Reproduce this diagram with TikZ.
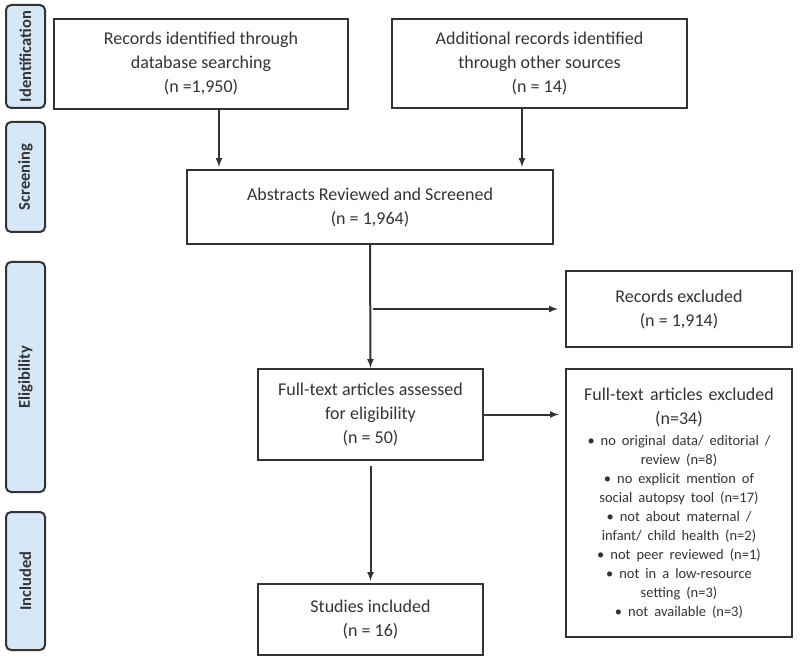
\documentclass[tikz,border=0pt]{standalone}
\usepackage{fontspec}
\setmainfont{Carlito}
\definecolor{barfill}{HTML}{D6E7F7}
\definecolor{inkgray}{HTML}{333333}
\tikzset{
  flowbox/.style={draw=inkgray, line width=2.2pt, align=center, inner sep=2pt,
    text=inkgray, font=\fontsize{18}{24}\selectfont},
  stagebar/.style={draw=inkgray, fill=barfill, line width=2pt, rounded corners=5pt,
    rotate=90, inner sep=0pt, minimum height=39pt, text=inkgray,
    font=\fontsize{16.5}{19}\selectfont\bfseries},
  link/.style={-latex, line width=2pt, draw=inkgray},
}
\begin{document}
\begin{tikzpicture}[x=1pt,y=-1pt]
  \useasboundingbox (0,0) rectangle (800,660);
  % stage labels on the left
  \node[stagebar, minimum width=103pt] (ident)   at (25.5,56.5) {Identification};
  \node[stagebar, minimum width=110pt] (screen)  at (25.5,177)  {Screening};
  \node[stagebar, minimum width=230pt] (elig)    at (25.5,377)  {Eligibility};
  \node[stagebar, minimum width=138pt] (inclbar) at (25.5,581)  {Included};

  % boxes
  \node[flowbox, minimum width=294pt, minimum height=90pt] (rec1) at (201,64)
    {Records identified through\\database searching\\(n =1,950)};
  \node[flowbox, minimum width=295pt, minimum height=89pt] (rec2) at (539.5,63.5)
    {Additional records identified\\through other sources\\(n = 14)};
  \node[flowbox, minimum width=366pt, minimum height=74pt] (abs) at (370,207)
    {Abstracts Reviewed and Screened\\(n = 1,964)};
  \node[flowbox, minimum width=226pt, minimum height=76pt] (recexcl) at (679,309)
    {Records excluded\\(n = 1,914)};
  \node[flowbox, minimum width=225pt, minimum height=91pt] (full) at (370.5,414.5)
    {Full-text articles assessed\\for eligibility\\(n = 50)};
  \node[flowbox, text width=216pt, minimum width=226pt, minimum height=268pt] (fullexcl) at (679,503)
    {Full-text articles excluded\\(n=34)\par
     \vspace{2pt}{\fontsize{14.5}{19}\selectfont
     \textbullet\ no original data/ editorial /\\review (n=8)\\
     \textbullet\ no explicit mention of\\social autopsy tool (n=17)\\
     \textbullet\ not about maternal /\\infant/ child health (n=2)\\
     \textbullet\ not peer reviewed (n=1)\\
     \textbullet\ not in a low-resource\\setting (n=3)\\
     \textbullet\ not available (n=3)\par}};
  \node[flowbox, minimum width=225pt, minimum height=71pt] (incl) at (370.5,619.5)
    {Studies included\\(n = 16)};

  % connectors
  \draw[link, shorten >=2pt] ([xshift=18pt]rec1.south) -- ([xshift=18pt]rec1.south |- abs.north);
  \draw[link, shorten >=2pt] ([xshift=-17.5pt]rec2.south) -- ([xshift=-17.5pt]rec2.south |- abs.north);
  \draw[link] (abs.south) -- (full.north);
  \draw[link, shorten <=3pt, shorten >=7pt] (abs.south |- recexcl.west) -- (recexcl.west);
  \draw[link, shorten >=6pt] (full.east) -- (fullexcl.west |- full.east);
  \draw[link, shorten <=5pt, shorten >=2pt] (full.south) -- (incl.north);
\end{tikzpicture}
\end{document}
